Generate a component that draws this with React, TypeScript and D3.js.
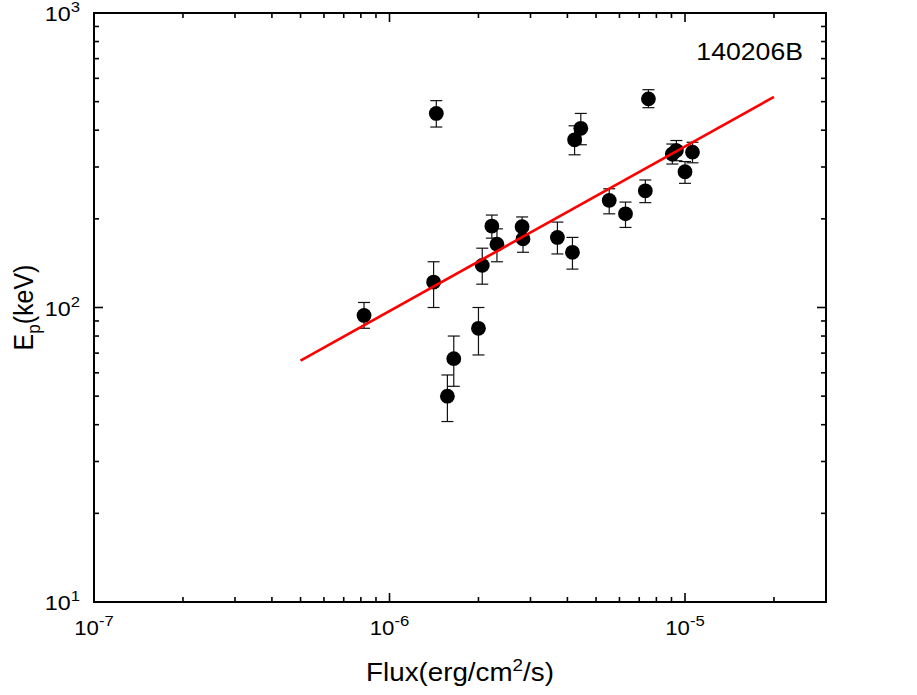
import React, { useRef, useEffect } from 'react';
import * as d3 from 'd3';

// peak energy vs flux, 140206B
const flux = [8.2e-7, 1.41e-6, 1.44e-6, 1.57e-6, 1.65e-6, 2.0e-6, 2.06e-6, 2.22e-6, 2.31e-6, 2.81e-6, 2.83e-6, 3.7e-6, 4.16e-6, 4.23e-6, 4.44e-6, 5.54e-6, 6.29e-6, 7.34e-6, 7.52e-6, 9.06e-6, 9.35e-6, 1.0e-5, 1.06e-5];
const ep = [94, 122, 456, 50, 67, 85, 139, 189, 164, 188, 171, 173, 154, 371, 406, 231, 208, 249, 511, 332, 341, 289, 337];
const epHigh = [104, 143, 504, 59, 80, 100, 159, 206, 185, 203, 187, 195, 173, 414, 456, 253, 228, 271, 549, 359, 369, 313, 364];
const epLow = [85, 100, 410, 41, 54, 69, 120, 172, 143, 174, 154, 152, 135, 330, 357, 208, 187, 227, 477, 307, 315, 264, 310];

// best-fit line endpoints
const fitFlux = [5e-7, 2e-5];
const fitEp = [66, 519];

const xDomain = [1e-7, 3e-5];
const yDomain = [10, 1000];
const xMajor = [-7, -6, -5];
const yMajor = [1, 2, 3];

const App = () => {
    const svgRef = useRef<SVGSVGElement>(null);

    useEffect(() => {
        const width = 917;
        const height = 695;
        const margin = { top: 13, right: 91, bottom: 93, left: 94 };
        const font = 'Liberation Sans, Arial, Helvetica, sans-serif';
        const sx = 1.11; // the glyphs in the original are a bit wide

        const svg = d3.select(svgRef.current)
            .attr('width', width)
            .attr('height', height);
        svg.selectAll('*').remove();

        const x = d3.scaleLog().domain(xDomain).range([margin.left, width - margin.right]);
        const y = d3.scaleLog().domain(yDomain).range([height - margin.bottom, margin.top]);
        const [x0, x1] = x.range();
        const [y0, y1] = y.range();

        const isMajor = (v: number) => Math.abs(Math.log10(v) - Math.round(Math.log10(v))) < 1e-6;

        const label = (tx: number, ty: number, anchor: string, size: number, extra = '') =>
            svg.append('text')
                .attr('transform', `translate(${tx},${ty}) scale(${sx},1)${extra}`)
                .attr('text-anchor', anchor)
                .attr('font-family', font)
                .attr('font-size', size)
                .attr('fill', '#000');

        // ticks on all four sides, pointing inward
        const ticks = svg.append('g').attr('stroke', '#000').attr('stroke-width', 1.6);
        x.ticks().forEach(v => {
            const len = isMajor(v) ? 9 : 5;
            ticks.append('line').attr('x1', x(v)).attr('x2', x(v)).attr('y1', y0).attr('y2', y0 - len);
            ticks.append('line').attr('x1', x(v)).attr('x2', x(v)).attr('y1', y1).attr('y2', y1 + len);
        });
        y.ticks().forEach(v => {
            const len = isMajor(v) ? 9 : 5;
            ticks.append('line').attr('x1', x0).attr('x2', x0 + len).attr('y1', y(v)).attr('y2', y(v));
            ticks.append('line').attr('x1', x1).attr('x2', x1 - len).attr('y1', y(v)).attr('y2', y(v));
        });

        // frame
        svg.append('rect')
            .attr('x', x0).attr('y', y1)
            .attr('width', x1 - x0).attr('height', y0 - y1)
            .attr('fill', 'none').attr('stroke', '#000').attr('stroke-width', 2);

        // tick labels
        xMajor.forEach(p => {
            const t = label(x(Math.pow(10, p)), y0 + 33, 'middle', 20);
            t.append('tspan').text('10');
            t.append('tspan').attr('dy', -9).attr('font-size', 15).text(String(p));
        });
        yMajor.forEach(p => {
            const t = label(x0 - 14, y(Math.pow(10, p)) + 8, 'end', 21);
            t.append('tspan').text('10');
            t.append('tspan').attr('dy', -9).attr('font-size', 15).text(String(p));
        });

        // axis titles
        const xt = label((x0 + x1) / 2, 681, 'middle', 25);
        xt.append('tspan').text('Flux(erg/cm');
        xt.append('tspan').attr('dy', -10).attr('font-size', 17).text('2');
        xt.append('tspan').attr('dy', 10).text('/s)');

        const yt = label(33, (y0 + y1) / 2, 'middle', 25, ' rotate(-90)');
        yt.append('tspan').text('E');
        yt.append('tspan').attr('dy', 6).attr('font-size', 17).text('p');
        yt.append('tspan').attr('dy', -6).text('(keV)');

        // burst name
        label(803, 60, 'end', 24).text('140206B');

        // error bars
        const eb = svg.append('g').attr('stroke', '#111').attr('stroke-width', 1.2);
        flux.forEach((f, i) => {
            const cx = x(f);
            eb.append('line').attr('x1', cx).attr('x2', cx).attr('y1', y(epLow[i])).attr('y2', y(epHigh[i]));
            eb.append('line').attr('x1', cx - 6).attr('x2', cx + 6).attr('y1', y(epLow[i])).attr('y2', y(epLow[i]));
            eb.append('line').attr('x1', cx - 6).attr('x2', cx + 6).attr('y1', y(epHigh[i])).attr('y2', y(epHigh[i]));
        });

        // points
        svg.append('g')
            .selectAll('circle')
            .data(flux)
            .enter()
            .append('circle')
            .attr('cx', d => x(d))
            .attr('cy', (d, i) => y(ep[i]))
            .attr('r', 7.4)
            .attr('fill', '#000');

        // fit line
        const line = d3.line<number>()
            .x(d => x(d))
            .y((d, i) => y(fitEp[i]));
        svg.append('path')
            .datum(fitFlux)
            .attr('fill', 'none')
            .attr('stroke', '#ff0000')
            .attr('stroke-width', 2.7)
            .attr('d', line);
    }, []);

    return <svg ref={svgRef} style={{ position: 'absolute', left: 0, top: 0, background: '#fff' }}></svg>;
};

export default App;
